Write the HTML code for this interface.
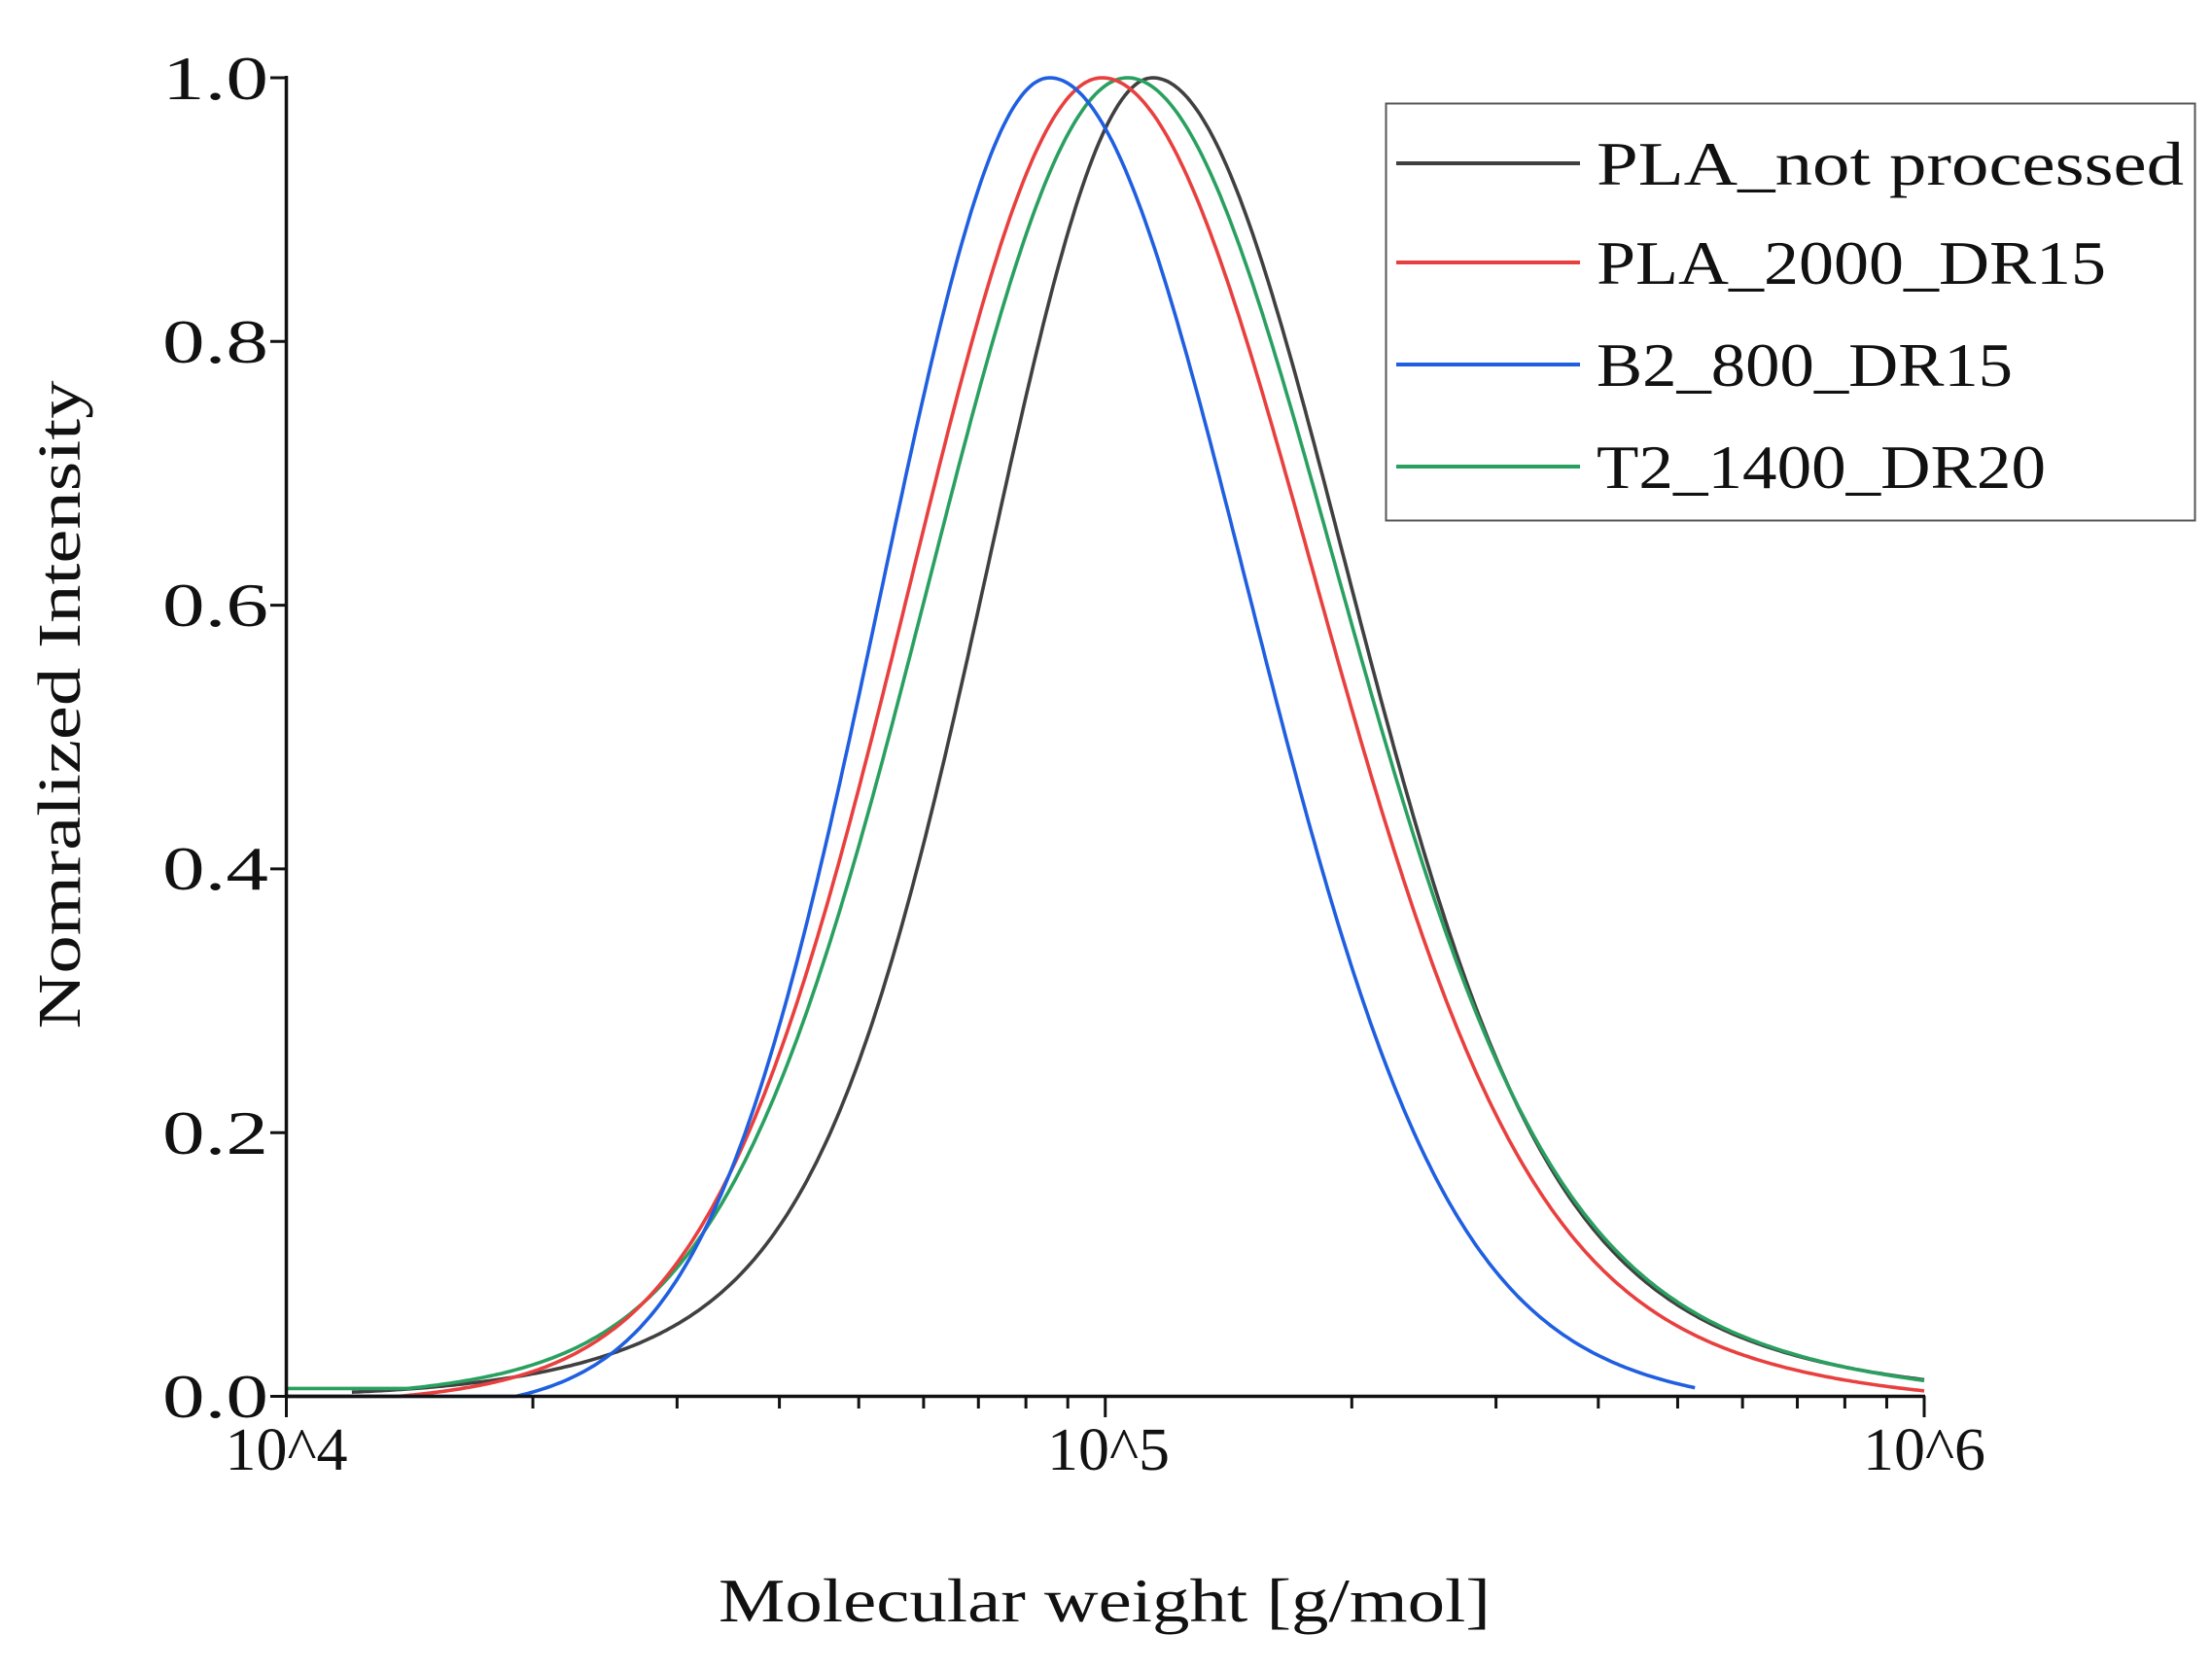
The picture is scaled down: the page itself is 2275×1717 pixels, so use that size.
<!DOCTYPE html>
<html><head><meta charset="utf-8"><style>
html,body{margin:0;padding:0;background:#fff;}
svg{display:block;}
text{font-family:"Liberation Serif",serif;fill:#111;}
</style></head><body>
<svg id="s" width="2275" height="1717" viewBox="0 0 2275 1717" xmlns="http://www.w3.org/2000/svg">
<g id="curves" fill="none" stroke-width="3.6" stroke-linejoin="round"></g>
<g stroke="#111" stroke-width="3.5" fill="none">
<line x1="294.5" y1="78" x2="294.5" y2="1438"/>
<line x1="293" y1="1436.5" x2="1980" y2="1436.5"/>
</g>
<g id="ticks" stroke="#111" stroke-width="3" fill="none"></g>
<g font-size="64" text-anchor="end">
<text x="276" y="1458" textLength="109" lengthAdjust="spacingAndGlyphs">0.0</text>
<text x="276" y="1187" textLength="109" lengthAdjust="spacingAndGlyphs">0.2</text>
<text x="276" y="915" textLength="109" lengthAdjust="spacingAndGlyphs">0.4</text>
<text x="276" y="644" textLength="109" lengthAdjust="spacingAndGlyphs">0.6</text>
<text x="276" y="373" textLength="109" lengthAdjust="spacingAndGlyphs">0.8</text>
<text x="276" y="102" textLength="109" lengthAdjust="spacingAndGlyphs">1.0</text>
</g>
<g font-size="62" text-anchor="middle">
<text x="294.5" y="1512" textLength="126" lengthAdjust="spacingAndGlyphs">10^4</text>
<text x="1140" y="1512" textLength="126" lengthAdjust="spacingAndGlyphs">10^5</text>
<text x="1979" y="1512" textLength="126" lengthAdjust="spacingAndGlyphs">10^6</text>
</g>
<text x="1136" y="1668" font-size="64" text-anchor="middle" textLength="794" lengthAdjust="spacingAndGlyphs">Molecular weight [g/mol]</text>
<text transform="translate(82,725) rotate(-90)" font-size="62" text-anchor="middle" textLength="667" lengthAdjust="spacingAndGlyphs">Nomralized Intensity</text>
<rect x="1425.5" y="106.5" width="832" height="429" fill="#fff" stroke="#555" stroke-width="2"/>
<g stroke-width="4">
<line x1="1436" y1="168" x2="1625" y2="168" stroke="#404040"/>
<line x1="1436" y1="270" x2="1625" y2="270" stroke="#e8403f"/>
<line x1="1436" y1="375" x2="1625" y2="375" stroke="#1f5fe0"/>
<line x1="1436" y1="480" x2="1625" y2="480" stroke="#2aa060"/>
</g>
<g font-size="64">
<text x="1642" y="190" textLength="604" lengthAdjust="spacingAndGlyphs">PLA_not processed</text>
<text x="1642" y="292" textLength="524" lengthAdjust="spacingAndGlyphs">PLA_2000_DR15</text>
<text x="1642" y="397" textLength="428" lengthAdjust="spacingAndGlyphs">B2_800_DR15</text>
<text x="1642" y="502" textLength="462" lengthAdjust="spacingAndGlyphs">T2_1400_DR20</text>
</g>
</svg>
<script>
(function(){
var X0=294.5,DEC=842.25,Y0=1436.5,Y1=80;
function px(l){return X0+(l-4)*DEC;}
function py(v){return Y0-(Y0-Y1)*v;}
var t=document.getElementById('ticks'),h='';
for(var d=4;d<=6;d++){h+='<line x1="'+px(d)+'" y1="1436" x2="'+px(d)+'" y2="1458"/>';
 if(d<6)for(var k=2;k<10;k++){var x=px(d+Math.log10(k));h+='<line x1="'+x+'" y1="1436" x2="'+x+'" y2="1449"/>';}}
for(var i=0;i<=5;i++){var y=py(i/5);h+='<line x1="278" y1="'+y+'" x2="295" y2="'+y+'"/>';}
t.innerHTML=h;
var S=[
 {c:'#404040',p:5.058,l1:.192,l2:.34,r1:.225,r2:.40,wl:.2,wr:.2,e:0,a:4.08,b:6},
 {c:'#2aa060',p:5.027,l1:.238,l2:.40,r1:.245,r2:.44,wl:.1,wr:.18,e:.004,a:4,b:6},
 {c:'#e8403f',p:4.996,l1:.232,l2:.39,r1:.25,r2:.44,wl:.08,wr:.16,e:.008,a:4,b:6},
 {c:'#1f5fe0',p:4.932,l1:.205,l2:.34,r1:.235,r2:.40,wl:.05,wr:.12,e:.014,a:4,b:5.72}];
var g=document.getElementById('curves'),o='';
S.forEach(function(s){var d='';
 for(var l=s.a;l<=s.b+1e-9;l+=0.004){var q=l-s.p,a1=q<0?s.l1:s.r1,a2=q<0?s.l2:s.r2,w=q<0?s.wl:s.wr;
  var v=(1-w)*Math.exp(-q*q/(2*a1*a1))+w*Math.exp(-q*q/(2*a2*a2));
  v=(v-s.e)/(1-s.e);if(v<0)v=0;if(s.c=='#2aa060'&&l<4.3)v=Math.max(v,0.006);
  d+=(d?'L':'M')+px(l).toFixed(1)+','+py(v).toFixed(1);}
 o+='<path d="'+d+'" stroke="'+s.c+'"/>';});
g.innerHTML=o;
})();
</script>
</body></html>
